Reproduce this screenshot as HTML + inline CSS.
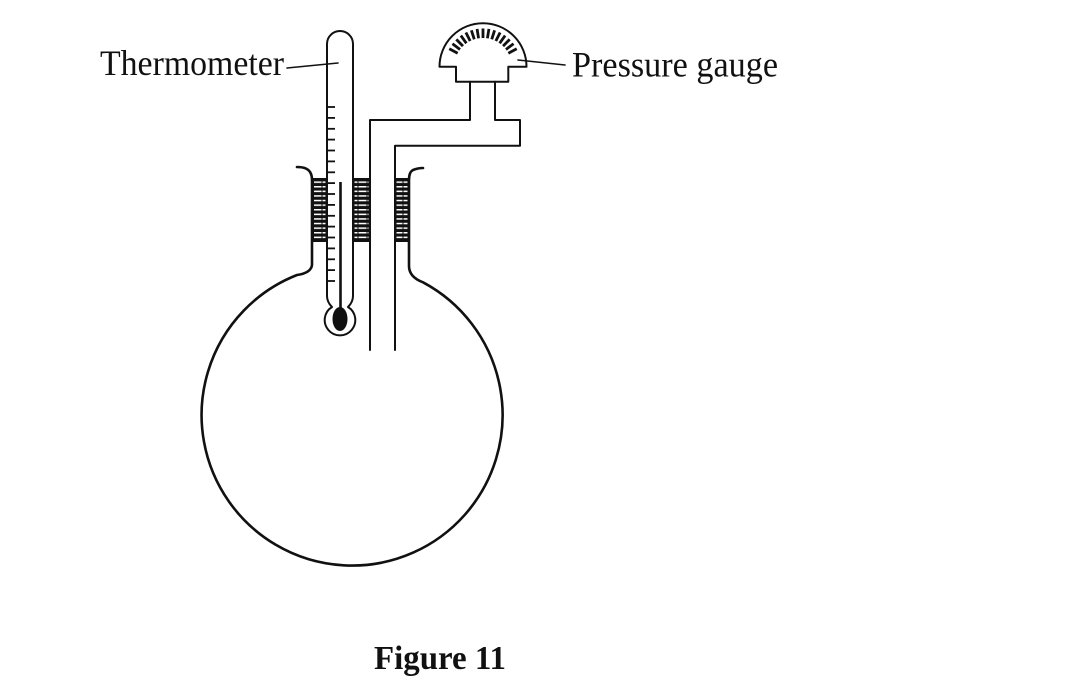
<!DOCTYPE html>
<html>
<head>
<meta charset="utf-8">
<style>
  html,body{margin:0;padding:0;background:#fff;}
  svg{display:block;}
</style>
</head>
<body>
<svg width="1073" height="681" viewBox="0 0 1073 681" xmlns="http://www.w3.org/2000/svg">
  <defs>
    <pattern id="slits" x="0" y="180" width="9" height="4.6" patternUnits="userSpaceOnUse">
      <rect x="0" y="0" width="9" height="4.6" fill="#111"/>
      <rect x="0" y="1.4" width="6.5" height="1.5" fill="#fff"/>
      <rect x="7.5" y="1.4" width="1.5" height="1.5" fill="#fff"/>
    </pattern>
  </defs>
  <rect width="1073" height="681" fill="#fff"/>

  <g fill="none" stroke="#111" stroke-linecap="round" stroke-linejoin="round">
    <!-- Flask -->
    <path d="M297,167 Q307,167 310,172 Q312,175 312,180 L312,265 Q311,273 297,275 A150.5,150.5 0 1 0 423,282.3 Q409,277 409,266 L409,180 Q409,172 413,170 Q418,168 423,168" stroke-width="2.6"/>

    <!-- Thermometer -->
    <path d="M327,296 L327,44 A13,13 0 0 1 353,44 L353,296 Q353,302 348,307 A15.3,15.3 0 1 1 332,307 Q327,302 327,296 Z" stroke-width="2"/>

    <!-- Delivery tube -->
    <path d="M370,350 L370,120 L470,120 L470,81.7" stroke-width="2"/>
    <path d="M395,350 L395,145.7 L520,145.7 L520,120 L495,120 L495,81.7" stroke-width="2"/>

    <!-- Gauge -->
    <path d="M456,81.7 L456,66.7 L439.5,66.7 A43.5,43.5 0 0 1 526.5,66.7 L508.3,66.7 L508.3,81.7 Z" stroke-width="2"/>

    <!-- Leader lines -->
    <line x1="287" y1="68" x2="338" y2="63" stroke-width="1.6"/>
    <line x1="518" y1="60" x2="565" y2="65" stroke-width="1.6"/>
  </g>

  <!-- capillary and bulb -->
  <line x1="340.5" y1="182" x2="340.5" y2="310" stroke="#111" stroke-width="2.6"/>
  <ellipse cx="340" cy="319" rx="7.5" ry="12" fill="#111"/>

  <!-- thermometer ticks -->
  <g stroke="#111" stroke-width="1.8">
    <line x1="327" y1="107" x2="335" y2="107"/>
    <line x1="327" y1="117.9" x2="335" y2="117.9"/>
    <line x1="327" y1="128.8" x2="335" y2="128.8"/>
    <line x1="327" y1="139.6" x2="335" y2="139.6"/>
    <line x1="327" y1="150.5" x2="335" y2="150.5"/>
    <line x1="327" y1="161.4" x2="335" y2="161.4"/>
    <line x1="327" y1="172.3" x2="335" y2="172.3"/>
    <line x1="327" y1="183.1" x2="335" y2="183.1"/>
    <line x1="327" y1="194" x2="335" y2="194"/>
    <line x1="327" y1="204.9" x2="335" y2="204.9"/>
    <line x1="327" y1="215.8" x2="335" y2="215.8"/>
    <line x1="327" y1="226.6" x2="335" y2="226.6"/>
    <line x1="327" y1="237.5" x2="335" y2="237.5"/>
    <line x1="327" y1="248.4" x2="335" y2="248.4"/>
    <line x1="327" y1="259.3" x2="335" y2="259.3"/>
    <line x1="327" y1="270.1" x2="335" y2="270.1"/>
    <line x1="327" y1="281" x2="335" y2="281"/>
  </g>

  <!-- gauge ticks -->
  <g stroke="#111" stroke-width="2.8">
    <line x1="483" y1="38" x2="483" y2="28.5" transform="rotate(-62 483 66.7)"/>
    <line x1="483" y1="38" x2="483" y2="28.5" transform="rotate(-53.1 483 66.7)"/>
    <line x1="483" y1="38" x2="483" y2="28.5" transform="rotate(-44.3 483 66.7)"/>
    <line x1="483" y1="38" x2="483" y2="28.5" transform="rotate(-35.4 483 66.7)"/>
    <line x1="483" y1="38" x2="483" y2="28.5" transform="rotate(-26.6 483 66.7)"/>
    <line x1="483" y1="38" x2="483" y2="28.5" transform="rotate(-17.7 483 66.7)"/>
    <line x1="483" y1="38" x2="483" y2="28.5" transform="rotate(-8.9 483 66.7)"/>
    <line x1="483" y1="38" x2="483" y2="28.5" transform="rotate(0 483 66.7)"/>
    <line x1="483" y1="38" x2="483" y2="28.5" transform="rotate(8.9 483 66.7)"/>
    <line x1="483" y1="38" x2="483" y2="28.5" transform="rotate(17.7 483 66.7)"/>
    <line x1="483" y1="38" x2="483" y2="28.5" transform="rotate(26.6 483 66.7)"/>
    <line x1="483" y1="38" x2="483" y2="28.5" transform="rotate(35.4 483 66.7)"/>
    <line x1="483" y1="38" x2="483" y2="28.5" transform="rotate(44.3 483 66.7)"/>
    <line x1="483" y1="38" x2="483" y2="28.5" transform="rotate(53.1 483 66.7)"/>
    <line x1="483" y1="38" x2="483" y2="28.5" transform="rotate(62 483 66.7)"/>
  </g>

  <!-- stopper bands -->
  <g>
    <rect x="312" y="178" width="15.5" height="64" fill="#111"/>
    <rect x="314" y="180.5" width="11.5" height="59" fill="url(#slits)"/>
    <rect x="352.5" y="178" width="18" height="64" fill="#111"/>
    <rect x="354.5" y="180.5" width="14" height="59" fill="url(#slits)"/>
    <rect x="394.5" y="178" width="15" height="64" fill="#111"/>
    <rect x="396.5" y="180.5" width="11" height="59" fill="url(#slits)"/>
  </g>
  <!-- capillary over band area (thermometer interior stays white) -->

  <!-- Labels -->
  <text x="100" y="75" font-family="'Liberation Serif', 'Times New Roman', serif" font-size="36" fill="#111" textLength="184" lengthAdjust="spacingAndGlyphs">Thermometer</text>
  <text x="572" y="76.5" font-family="'Liberation Serif', 'Times New Roman', serif" font-size="36" fill="#111" textLength="206" lengthAdjust="spacingAndGlyphs">Pressure gauge</text>
  <text x="374" y="669" font-family="'Liberation Serif', 'Times New Roman', serif" font-size="34" font-weight="bold" fill="#111" textLength="132" lengthAdjust="spacingAndGlyphs">Figure 11</text>
</svg>
</body>
</html>
